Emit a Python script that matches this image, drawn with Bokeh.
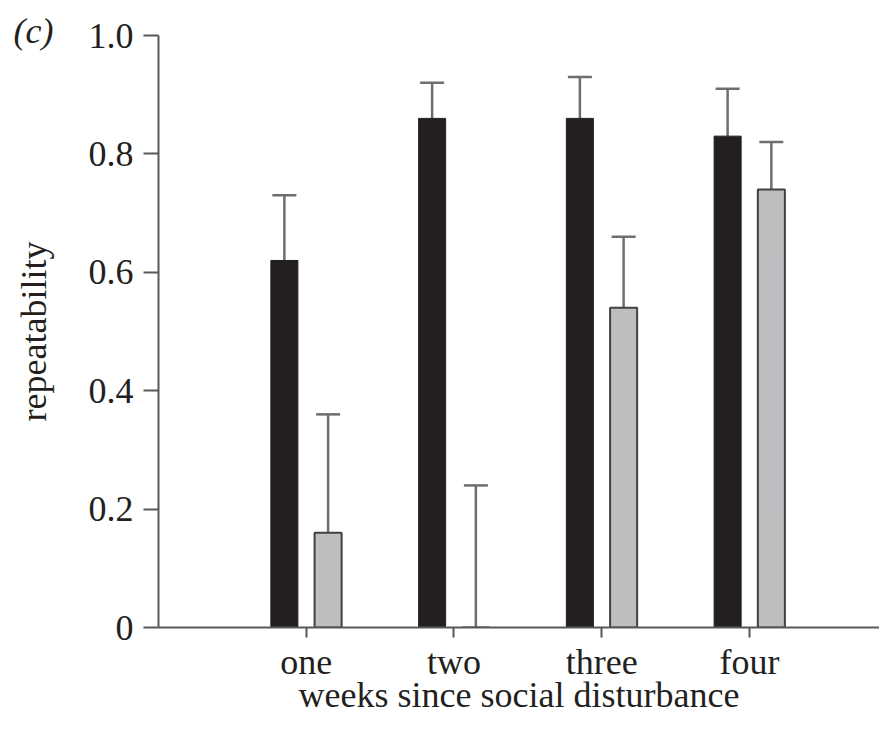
from bokeh.plotting import figure
from bokeh.models import ColumnDataSource, Whisker, TeeHead, FixedTicker, Title, Range1d
from bokeh.embed import file_html
from bokeh.resources import INLINE
from bokeh.transform import dodge

weeks = ["one", "two", "three", "four"]
before_val = [0.62, 0.86, 0.86, 0.83]
before_err = [0.73, 0.92, 0.93, 0.91]
after_val = [0.16, 0.0, 0.54, 0.74]
after_err = [0.36, 0.24, 0.66, 0.82]
y_ticks = [0.0, 0.2, 0.4, 0.6, 0.8, 1.0]
y_tick_labels = ["0", "0.2", "0.4", "0.6", "0.8", "1.0"]

pos = list(range(1, len(weeks) + 1))
src = ColumnDataSource(dict(x=pos, bv=before_val, be=before_err, av=after_val, ae=after_err))

FONT = "Liberation Serif"
TXT = "#231f20"
AX = "#58595b"

p = figure(width=879, height=717, output_backend="svg", toolbar_location=None,
           x_range=Range1d(0, 4.88), y_range=Range1d(0, 1.0),
           min_border_left=158, min_border_right=0, min_border_top=35, min_border_bottom=88)
p.outline_line_color = None
p.xgrid.visible = False
p.ygrid.visible = False
p.background_fill_color = "white"

off = 0.148
bw = 0.183
p.vbar(x=dodge("x", -off), top="bv", width=bw, source=src,
       fill_color="#231f20", line_color="#231f20", line_width=1)
p.vbar(x=dodge("x", off), top="av", width=bw, source=src,
       fill_color="#bcbec0", line_color="#414042", line_width=2)

for key_v, key_e, o in (("bv", "be", -off), ("av", "ae", off)):
    w = Whisker(base=dodge("x", o), lower=key_v, upper=key_e, source=src,
                dimension="height", line_color="#6d6e71", line_width=2.5,
                upper_head=TeeHead(size=24, line_color="#6d6e71", line_width=2.5),
                lower_head=None)
    p.add_layout(w)

# axes
p.xaxis.ticker = FixedTicker(ticks=pos)
p.xaxis.major_label_overrides = {x: w for x, w in zip(pos, weeks)}
p.xaxis.minor_tick_line_color = None
p.xaxis.major_tick_in = 0
p.xaxis.major_tick_out = 10
p.xaxis.axis_label = "weeks since social disturbance"

p.yaxis.ticker = FixedTicker(ticks=y_ticks)
p.yaxis.major_label_overrides = {t: s for t, s in zip(y_ticks, y_tick_labels)}
p.yaxis.minor_tick_line_color = None
p.yaxis.major_tick_in = 0
p.yaxis.major_tick_out = 15
p.yaxis.axis_label = "repeatability"
p.yaxis.major_label_standoff = 10
p.yaxis.axis_label_standoff = 32
p.xaxis.major_label_standoff = 4
p.xaxis.axis_label_standoff = -10

for ax in (p.xaxis, p.yaxis):
    ax.axis_line_color = AX
    ax.axis_line_width = 2
    ax.major_tick_line_color = AX
    ax.major_tick_line_width = 2
    ax.major_label_text_font = FONT
    ax.major_label_text_font_size = "36px"
    ax.major_label_text_color = TXT
    ax.axis_label_text_font = FONT
    ax.axis_label_text_font_size = "36px"
    ax.axis_label_text_font_style = "normal"
    ax.axis_label_text_color = TXT

# panel letter
p.add_layout(Title(text="(c)", align="left", offset=-145, standoff=-30,
                   text_font=FONT, text_font_size="36px", text_font_style="italic",
                   text_color=TXT), "above")

open("out.html", "w").write(file_html(p, INLINE))
